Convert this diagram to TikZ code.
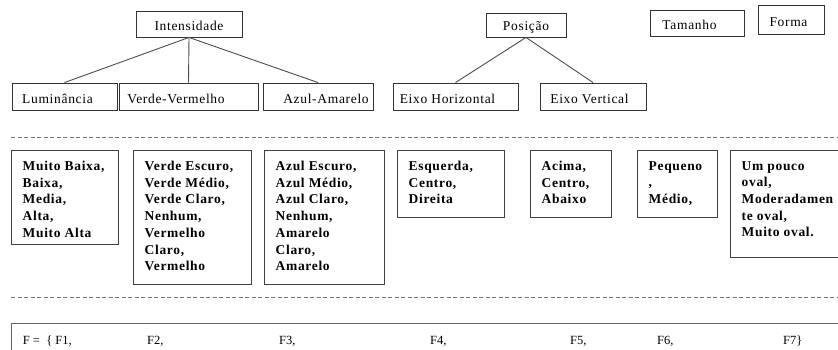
\documentclass[tikz,border=0pt]{standalone}
\usepackage{fontspec}
\setmainfont{Liberation Serif}
\newfontfamily\lblfont[LetterSpace=5]{Liberation Serif}
\newfontfamily\valfont[LetterSpace=5]{Liberation Serif}
\begin{document}
\begin{tikzpicture}[x=1pt,y=1pt,
  catbox/.style={draw=black!80, line width=0.9pt, inner sep=0pt, fill=white},
  valbox/.style={draw=black!75, line width=1pt, inner sep=0pt},
  lbl/.style={font=\lblfont\fontsize{13.5}{16}\selectfont, inner sep=0pt, anchor=center},
  val/.style={font=\valfont\bfseries\fontsize{13.5}{16.7}\selectfont, align=left,
              inner xsep=12pt, inner ysep=11.5pt, anchor=north west},
  ftxt/.style={font=\fontsize{12.5}{15}\selectfont, inner sep=0pt, anchor=base west},
  link/.style={draw=black!70, line width=0.9pt},
  sepline/.style={draw=black!55, line width=1pt, dash pattern=on 4pt off 2.5pt}]
\useasboundingbox (0,0) rectangle (838,349);
\clip (0,0) rectangle (838,349);

% category boxes, top row
\node[catbox, minimum width=106pt, minimum height=26pt,
      label={[lbl, yshift=-2pt]center:Intensidade}] (int) at (189,325) {};
\node[catbox, minimum width=80pt, minimum height=24pt,
      label={[lbl, yshift=-2pt]center:Posição}] (pos) at (526,324) {};
\node[catbox, minimum width=94pt, minimum height=26pt,
      label={[lbl, xshift=-7.5pt, yshift=-2pt]center:Tamanho}] (tam) at (697,326) {};
\node[catbox, minimum width=66pt, minimum height=29pt,
      label={[lbl, xshift=-2.5pt, yshift=-2.5pt]center:Forma}] (forma) at (791,329.5) {};

% sub-category boxes
\node[catbox, minimum width=105pt, minimum height=27pt,
      label={[lbl, xshift=-7pt, yshift=-2pt]center:Luminância}] (lum) at (64.5,252.5) {};
\node[catbox, minimum width=139pt, minimum height=27pt,
      label={[lbl, xshift=-12.5pt, yshift=-2pt]center:Verde-Vermelho}] (vv) at (188.5,252.5) {};
\node[catbox, minimum width=110pt, minimum height=27pt,
      label={[lbl, xshift=8pt, yshift=-2pt]center:Azul-Amarelo}] (aa) at (318,252.5) {};
\node[catbox, minimum width=125pt, minimum height=27pt,
      label={[lbl, xshift=-8pt, yshift=-2pt]center:Eixo Horizontal}] (eh) at (455.5,252.5) {};
\node[catbox, minimum width=106pt, minimum height=27pt,
      label={[lbl, xshift=-3.5pt, yshift=-2pt]center:Eixo Vertical}] (ev) at (593,252.5) {};

% hierarchy links
\draw[link] (int.south) -- (lum.north);
\draw[link] (int.south) -- (vv.north);
\draw[link] (int.south) -- (aa.north);
\draw[link] (pos.south) -- (eh.north);
\draw[link] (pos.south) -- (ev.north);

% dashed separators
\coordinate (s1a) at (11,212);
\coordinate (s1b) at (838,212);
\coordinate (s2a) at (11,52);
\coordinate (s2b) at (838,52);
\draw[sepline] (s1a) -- (s1b);
\draw[sepline] (s2a) -- (s2b);

% value boxes
\node[valbox, minimum width=107pt, minimum height=94pt,
      label={[val]north west:{Muito Baixa,\\Baixa,\\Media,\\Alta,\\Muito Alta}}] (v1) at (64.5,152) {};
\node[valbox, minimum width=118pt, minimum height=134pt,
      label={[val]north west:{Verde Escuro,\\Verde Médio,\\Verde Claro,\\Nenhum,\\Vermelho\\Claro,\\Vermelho}}] (v2) at (192,132) {};
\node[valbox, minimum width=120pt, minimum height=134pt,
      label={[val]north west:{Azul Escuro,\\Azul Médio,\\Azul Claro,\\Nenhum,\\Amarelo\\Claro,\\Amarelo}}] (v3) at (324,132) {};
\node[valbox, minimum width=107pt, minimum height=67pt,
      label={[val]north west:{Esquerda,\\Centro,\\Direita}}] (v4) at (450.5,165.5) {};
\node[valbox, minimum width=81pt, minimum height=67pt,
      label={[val]north west:{Acima,\\Centro,\\Abaixo}}] (v5) at (570.5,165.5) {};
\node[valbox, minimum width=80pt, minimum height=67pt,
      label={[val]north west:{Pequeno\\,\\Médio,}}] (v6) at (677,165.5) {};
\node[valbox, minimum width=120pt, minimum height=107pt,
      label={[val]north west:{Um pouco\\oval,\\Moderadamen\\te oval,\\Muito oval.}}] (v7) at (790,145.5) {};

% feature set
\node[draw=black!60, line width=1.4pt, inner sep=0pt, anchor=north west,
      minimum width=860pt, minimum height=60pt] (fset) at (11,26) {};
\node[ftxt] (f1) at (22.7,5) {F =~~\{ F1,};
\node[ftxt] (f2) at (147,5) {F2,};
\node[ftxt] (f3) at (279,5) {F3,};
\node[ftxt] (f4) at (430,5) {F4,};
\node[ftxt] (f5) at (570,5) {F5,};
\node[ftxt] (f6) at (657,5) {F6,};
\node[ftxt] (f7) at (783,5) {F7\}};
\end{tikzpicture}
\end{document}
